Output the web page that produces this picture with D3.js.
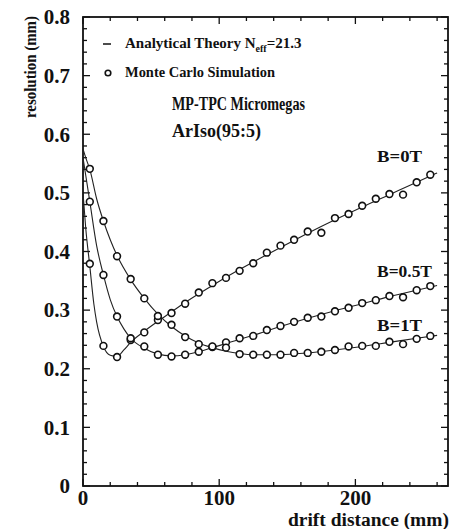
<!DOCTYPE html>
<html lang="en">
  <head>
    <meta charset="UTF-8"/>
    <title>Resolution vs drift distance</title>
    <script src="https://d3js.org/d3.v7.min.js"></script>
    <style>
      body { margin: 0; background: #fff; }
      svg text { font-family: "Liberation Serif", "Times New Roman", Times, serif; fill: #111; }
      .tick-label { font-size: 21px; font-weight: bold; }
      .axis-label { font-size: 18px; font-weight: bold; }
      .legend { font-size: 15px; font-weight: bold; }
      .note { font-size: 18px; font-weight: bold; }
      .blabel { font-size: 17px; font-weight: bold; }
      .theory { fill: none; stroke: #222; stroke-width: 1.1px; }
      .mc { fill: #fff; stroke: #111; stroke-width: 1.6px; }
    </style>
  </head>
  <body>
    <script type="text/javascript">

        // Monte Carlo points (drift distance in mm, resolution in mm)
        const mcX = [5, 15, 25, 35, 45, 55, 65, 75, 85, 95, 105, 115, 125, 135, 145, 155, 165, 175, 185, 195, 205, 215, 225, 235, 245, 255]
        const mc0T = [0.379, 0.239, 0.220, 0.249, 0.262, 0.283, 0.295, 0.311, 0.330, 0.346, 0.355, 0.367, 0.380, 0.398, 0.410, 0.420, 0.434, 0.432, 0.457, 0.464, 0.478, 0.490, 0.498, 0.497, 0.518, 0.531]
        const mc05T = [0.485, 0.360, 0.289, 0.252, 0.238, 0.224, 0.221, 0.224, 0.229, 0.237, 0.245, 0.252, 0.256, 0.266, 0.273, 0.280, 0.287, 0.289, 0.298, 0.304, 0.312, 0.317, 0.324, 0.322, 0.334, 0.341]
        const mc1T = [0.541, 0.452, 0.392, 0.353, 0.320, 0.290, 0.275, 0.254, 0.242, 0.238, 0.236, 0.225, 0.224, 0.224, 0.224, 0.227, 0.227, 0.229, 0.232, 0.238, 0.239, 0.239, 0.246, 0.242, 0.251, 0.256]

        // Analytical theory curves
        const th0TX = [0, 2, 5, 8, 10, 15, 20, 25, 30, 35, 45, 55, 65, 75, 85, 95, 105, 125, 145, 165, 185, 205, 225, 245, 260]
        const th0T = [0.50, 0.44, 0.375, 0.31, 0.28, 0.238, 0.223, 0.221, 0.232, 0.245, 0.264, 0.281, 0.297, 0.313, 0.328, 0.342, 0.356, 0.382, 0.407, 0.431, 0.454, 0.476, 0.497, 0.518, 0.534]
        const th05TX = [0, 2, 5, 10, 15, 20, 25, 30, 35, 45, 55, 65, 75, 85, 95, 105, 125, 145, 165, 185, 205, 225, 245, 260]
        const th05T = [0.56, 0.53, 0.485, 0.41, 0.36, 0.318, 0.289, 0.268, 0.252, 0.235, 0.225, 0.222, 0.224, 0.229, 0.236, 0.243, 0.257, 0.272, 0.286, 0.299, 0.311, 0.323, 0.334, 0.342]
        const th1TX = [0, 2, 5, 10, 15, 20, 25, 35, 45, 55, 65, 75, 85, 95, 105, 115, 125, 135, 145, 165, 185, 205, 225, 245, 260]
        const th1T = [0.575, 0.56, 0.54, 0.49, 0.452, 0.42, 0.393, 0.352, 0.320, 0.293, 0.272, 0.256, 0.244, 0.236, 0.230, 0.226, 0.224, 0.224, 0.224, 0.227, 0.232, 0.238, 0.245, 0.252, 0.257]

        const xTicks = [0, 100, 200]
        const yTicks = [0, 0.1, 0.2, 0.3, 0.4, 0.5, 0.6, 0.7, 0.8]
        const fieldLabels = ["B=0T", "B=0.5T", "B=1T"]

        const outerWidth = 451,
              outerHeight = 529,
              margin = ({top: 17, right: 3, bottom: 43, left: 83}),
              width = outerWidth - margin.left - margin.right,
              height = outerHeight - margin.top - margin.bottom

        const svg = d3.select("body").append("svg")
            .attr("width", outerWidth)
            .attr("height", outerHeight)
            .attr("font-family", "Liberation Serif, serif")

        const g = svg.append("g")
            .attr("transform", `translate(${margin.left},${margin.top})`)

        const xScale = d3.scaleLinear().domain([0, 268]).range([0, width])
        const yScale = d3.scaleLinear().domain([0, 0.8]).range([height, 0])

        // frame with inward ticks on all four sides
        const xMinor = d3.range(0, 268, 20)
        const yMinor = d3.range(0, 0.801, 0.02)

        const tickLen = major => d => (major.some(m => Math.abs(m - d) < 1e-6) ? -7 : -4)
        const xMaj = tickLen(xTicks)
        const yMaj = tickLen(yTicks)

        const bottomAxis = g.append("g").attr("transform", `translate(0,${height})`)
        const topAxis = g.append("g")
        const leftAxis = g.append("g")
        const rightAxis = g.append("g").attr("transform", `translate(${width},0)`)

        bottomAxis.selectAll("line").data(xMinor).join("line")
            .attr("x1", d => xScale(d)).attr("x2", d => xScale(d))
            .attr("y1", 0).attr("y2", d => xMaj(d))
        topAxis.selectAll("line").data(xMinor).join("line")
            .attr("x1", d => xScale(d)).attr("x2", d => xScale(d))
            .attr("y1", 0).attr("y2", d => -xMaj(d))
        leftAxis.selectAll("line").data(yMinor).join("line")
            .attr("y1", d => yScale(d)).attr("y2", d => yScale(d))
            .attr("x1", 0).attr("x2", d => -yMaj(d))
        rightAxis.selectAll("line").data(yMinor).join("line")
            .attr("y1", d => yScale(d)).attr("y2", d => yScale(d))
            .attr("x1", 0).attr("x2", d => yMaj(d))

        g.selectAll("g line").attr("stroke", "#111").attr("stroke-width", 1.3)

        g.append("rect")
            .attr("width", width).attr("height", height)
            .attr("fill", "none").attr("stroke", "#111").attr("stroke-width", 1.8)

        // tick labels
        leftAxis.selectAll("text").data(yTicks).join("text")
            .attr("class", "tick-label")
            .attr("text-anchor", "end")
            .attr("x", -13)
            .attr("y", d => yScale(d))
            .attr("dy", "0.35em")
            .text(d => d === 0 ? "0" : d3.format(".1f")(d))

        bottomAxis.selectAll("text").data(xTicks).join("text")
            .attr("class", "tick-label")
            .attr("text-anchor", "middle")
            .attr("x", d => xScale(d))
            .attr("y", 19)
            .text(d => d)

        // axis titles
        svg.append("text")
            .attr("class", "axis-label")
            .attr("text-anchor", "middle")
            .attr("transform", "translate(36,67) rotate(-90)")
            .attr("textLength", 102)
            .attr("lengthAdjust", "spacingAndGlyphs")
            .style("font-size", "16px")
            .text("resolution (mm)")

        svg.append("text")
            .attr("class", "axis-label")
            .attr("text-anchor", "end")
            .attr("x", 449)
            .attr("y", 526)
            .attr("textLength", 161)
            .attr("lengthAdjust", "spacingAndGlyphs")
            .text("drift distance (mm)")

        // theory lines
        const line = d3.line()
            .x(d => xScale(d[0]))
            .y(d => yScale(d[1]))
            .curve(d3.curveMonotoneX)

        const theory = [[th0TX, th0T], [th05TX, th05T], [th1TX, th1T]]
        g.selectAll("path.theory").data(theory).join("path")
            .attr("class", "theory")
            .attr("d", ([xs, ys]) => line(xs.map((x, i) => [x, ys[i]])))

        // Monte Carlo markers
        const mcSeries = [mc0T, mc05T, mc1T]
        mcSeries.forEach(ys => {
            g.append("g").selectAll("circle").data(mcX.map((x, i) => [x, ys[i]])).join("circle")
                .attr("class", "mc")
                .attr("cx", d => xScale(d[0]))
                .attr("cy", d => yScale(d[1]))
                .attr("r", 3.4)
        })

        // legend
        svg.append("line")
            .attr("x1", 103).attr("x2", 111).attr("y1", 44).attr("y2", 44)
            .attr("stroke", "#111").attr("stroke-width", 1.5)
        const leg1 = svg.append("text").attr("class", "legend").attr("x", 125).attr("y", 48)
        leg1.append("tspan").text("Analytical Theory N")
        leg1.append("tspan").attr("dy", 4).style("font-size", "10px").text("eff")
        leg1.append("tspan").attr("dy", -4).text("=21.3")

        svg.append("circle")
            .attr("class", "mc").attr("cx", 108).attr("cy", 73).attr("r", 2.8)
        svg.append("text").attr("class", "legend").attr("x", 125).attr("y", 77)
            .attr("textLength", 150)
            .attr("lengthAdjust", "spacingAndGlyphs")
            .text("Monte Carlo Simulation")

        svg.append("text").attr("class", "note").attr("x", 172).attr("y", 110)
            .attr("textLength", 133)
            .attr("lengthAdjust", "spacingAndGlyphs")
            .text("MP-TPC Micromegas")
        svg.append("text").attr("class", "note").attr("x", 172).attr("y", 137)
            .text("ArIso(95:5)")

        // field labels next to the curves
        const labelY = [0.552, 0.357, 0.265]
        const labelW = [45, 55, 45]
        svg.selectAll("text.blabel").data(fieldLabels).join("text")
            .attr("class", "blabel")
            .attr("x", 377)
            .attr("y", (d, i) => margin.top + yScale(labelY[i]))
            .attr("textLength", (d, i) => labelW[i])
            .attr("lengthAdjust", "spacingAndGlyphs")
            .text(d => d)

    </script>
  </body>
</html>
